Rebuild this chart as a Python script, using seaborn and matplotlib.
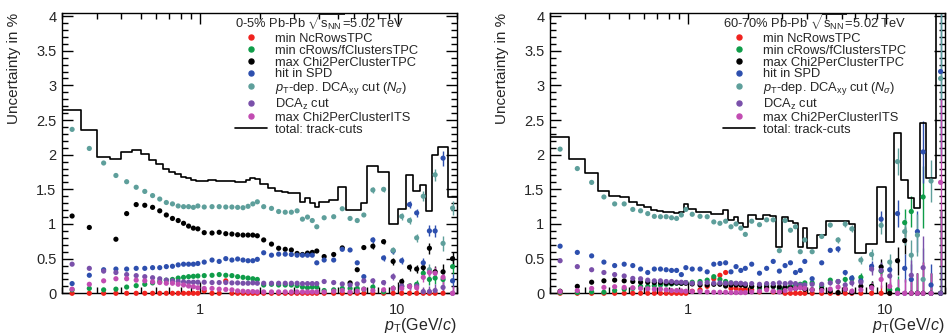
import numpy as np
import pandas as pd
import matplotlib
matplotlib.use("Agg")
import matplotlib.pyplot as plt
from matplotlib.lines import Line2D
from matplotlib.ticker import FixedLocator, FixedFormatter, NullFormatter, LogLocator, MultipleLocator
import seaborn as sns

# ---------------- data ----------------
pt_edges = [0.2, 0.25, 0.3, 0.35, 0.4, 0.45, 0.5, 0.55, 0.6, 0.65, 0.7, 0.75, 0.8, 0.85, 0.9, 0.95,
            1.0, 1.1, 1.2, 1.3, 1.4, 1.5, 1.6, 1.7, 1.8, 1.9,
            2.0, 2.2, 2.4, 2.6, 2.8, 3.0, 3.2, 3.4, 3.6, 3.8,
            4.0, 4.5, 5.0, 5.5, 6.0, 6.5,
            7.0, 8.0, 9.0, 10.0, 11.0, 12.0, 13.0, 14.0, 15.0, 16.0, 18.0, 20.0]

series_names = ["min NcRowsTPC", "min cRows/fClustersTPC", "max Chi2PerClusterTPC", "hit in SPD",
                r"$p_{\rm T}$-dep. DCA$_{\rm xy}$ cut ($N_{\sigma}$)", r"DCA$_{\rm z}$ cut",
                "max Chi2PerClusterITS"]
total_name = "total: track-cuts"
panel_titles = [r"0-5% Pb-Pb $\sqrt{{\rm s}_{\rm NN}}$=5.02 TeV",
                r"60-70% Pb-Pb $\sqrt{{\rm s}_{\rm NN}}$=5.02 TeV"]

nan = float("nan")

# ----- 0-5 % -----
redL = [0, 0, 0, 0, 0, 0, 0, 0, 0, 0, 0, 0, 0, 0, 0, 0,
        0.035, 0, 0, 0.18, 0, 0, 0, 0, 0, 0,
        0, 0, 0, 0, 0, 0, 0, 0, 0, 0,
        0, 0, 0, 0, 0, 0,
        0, 0, 0, 0, 0, 0, 0, 0, 0, 0, nan]
greenL = [0.05, 0.07, 0.05, 0.06, 0.09, 0.11, 0.13, 0.15, 0.17, 0.19, 0.20, 0.22, 0.23, 0.24, 0.245, 0.25,
          0.255, 0.26, 0.27, 0.26, 0.255, 0.24, 0.23, 0.22, 0.21, 0.20,
          0.12, 0.13, 0.12, 0.12, 0.12, 0.11, 0.09, 0.08, 0.09, 0.09,
          0.04, 0.05, 0.07, 0.07, 0.07, 0.06,
          0.09, 0.02, 0.07, 0.10, 0.105, 0.13, 0.29, 0.20, 0.22, 0.20, 0.385]
blackL = [1.115, 0.95, nan, 0.78, 1.15, 1.28, 1.27, 1.24, 1.19, 1.13, 1.08, 1.05, 1.01, 0.97, 0.94, 0.93,
          0.875, 0.87, 0.88, 0.86, 0.855, 0.845, 0.84, 0.84, 0.84, 0.83,
          0.77, 0.71, 0.65, 0.635, 0.625, 0.575, 0.56, 0.58, 0.59, 0.61,
          0.53, 0.56, 0.655, 0.15, 0.34, 0.66,
          0.68, 0.745, 0.46, 0.17, 0.375, 0.35, 0.37, 0.65, 0.31, 0.31, 0.50]
blueL = [0.14, 0.26, 0.34, 0.35, 0.35, 0.36, 0.36, 0.37, 0.37, 0.385, 0.39, 0.41, 0.42, 0.42, 0.42, 0.43,
         0.45, 0.48, 0.46, 0.50, 0.48, 0.495, 0.48, 0.47, 0.47, 0.49,
         0.585, 0.55, 0.565, 0.565, 0.56, 0.55, 0.55, 0.55, 0.55, 0.44,
         0.48, 0.48, 0.635, 0.625, 0.44, 0.24,
         0.77, 0.51, 0.61, 0.47, 1.28, 1.16, 0.44, 0.90, 0.90, 1.95, 0.18]
tealL = [2.365, 2.09, 1.88, 1.70, 1.61, 1.53, 1.47, 1.41, 1.36, 1.31, 1.29, 1.26, 1.25, 1.25, 1.24, 1.26,
         1.245, 1.25, 1.25, 1.245, 1.245, 1.24, 1.235, 1.255, 1.29, 1.32,
         1.25, 1.225, 1.18, 1.17, 1.17, 1.19, 1.07, 1.10, 1.05, 0.96,
         1.09, 1.105, 1.22, 1.08, 1.05, 1.13,
         1.49, 1.50, 0.62, 1.11, 1.05, 0.80, 1.40, 0.34, 1.71, 0.72, 1.23]
purpleL = [0.42, 0.36, 0.32, 0.30, 0.27, 0.255, 0.24, 0.225, 0.21, 0.19, 0.18, 0.17, 0.165, 0.16, 0.16, 0.16,
           0.16, 0.155, 0.155, 0.155, 0.15, 0.15, 0.145, 0.145, 0.15, 0.145,
           0.145, 0.145, 0.145, 0.145, 0.145, 0.145, 0.14, 0.14, 0.14, 0.14,
           0.17, 0.155, 0.135, 0.12, 0.135, 0.18,
           0.18, 0.155, 0.24, 0.105, 0.10, 0.105, 0.025, 0.025, 0.04, 0.085, 0.0]
pinkL = [0.06, 0.13, 0.18, 0.21, 0.21, 0.19, 0.18, 0.165, 0.155, 0.145, 0.145, 0.13, 0.12, 0.105, 0.095, 0.08,
         0.07, 0.07, 0.06, 0.055, 0.05, 0.035, 0.03, 0.025, 0.025, 0.02,
         0.02, 0.02, 0.02, 0.02, 0.02, 0.02, 0.02, 0.02, 0.02, 0.02,
         0.02, 0.03, 0.04, 0.02, 0.03, 0.06,
         0.04, 0.05, 0.07, 0.07, 0.10, 0.08, 0.23, 0.30, 0.29, 0.23, 0.0]
totalL = [2.65, 2.35, 1.96, 1.94, 2.04, 2.07, 2.01, 1.93, 1.86, 1.80, 1.75, 1.72, 1.68, 1.66, 1.63, 1.62,
          1.62, 1.63, 1.62, 1.625, 1.62, 1.61, 1.60, 1.63, 1.66, 1.65,
          1.58, 1.52, 1.48, 1.46, 1.45, 1.44, 1.32, 1.37, 1.31, 1.24,
          1.32, 1.34, 1.53, 1.20, 1.20, 1.30,
          1.83, 1.75, 1.00, 1.22, 1.71, 1.47, 1.56, 1.19, 2.00, 2.11, 1.39]
errL = [0] * 42 + [0.04, 0.04, 0.05, 0.05, 0.05, 0.06, 0.07, 0.08, 0.09, 0.11, 0.10]

# ----- 60-70 % -----
redR = [0, 0, 0, 0, 0, 0, 0, 0, 0, 0, 0, 0, 0, 0, 0, 0,
        0.03, 0.05, 0.10, 0.21, 0.26, 0.30, 0.07, 0.07, 0.05, 0.06,
        0.05, 0.02, 0.07, 0.02, 0.03, 0, 0, 0, 0, 0,
        0, 0, 0, 0, 0, 0,
        0, 0, 0, 0, nan, nan, nan, nan, nan, nan, nan]
greenR = [0.01, 0.01, 0.02, 0.015, 0.04, 0.06, 0.07, 0.10, 0.10, 0.11, 0.12, 0.13, 0.135, 0.145, 0.145, 0.155,
          0.16, 0.17, 0.19, 0.24, 0.20, 0.17, 0.15, 0.14, 0.13, 0.13,
          0.10, 0.07, 0.12, 0.10, 0.06, 0.08, 0.10, 0.12, 0.13, 0.15,
          0.15, 0.10, 0.19, 0.17, 0.20, 0.21,
          0.23, 0.10, 0.32, 0.05, 0.05, 1.02, 1.18, 0.0, 1.39, 0.0, 0.0]
blackR = [0.03, 0.10, 0.16, 0.18, 0.19, 0.18, 0.17, 0.16, 0.16, 0.155, 0.155, 0.145, 0.145, 0.15, 0.145, 0.145,
          0.135, 0.12, 0.12, 0.13, 0.13, 0.105, 0.12, 0.12, 0.12, 0.11,
          0.10, 0.10, 0.09, 0.10, 0.09, 0.09, 0.08, 0.07, 0.10, 0.06,
          0.05, 0.06, 0.03, 0.01, 0.06, 0.01,
          0.10, 0.10, 0.38, 0.0, 0.47, 0.76, 0.0, 0.0, 0.0, 0.0, 0.0]
blueR = [0.68, 0.59, 0.54, 0.45, 0.40, 0.42, 0.40, 0.35, 0.30, 0.35, 0.35, 0.34, 0.33, 0.33, 0.27, 0.37,
         0.35, 0.35, 0.31, 0.42, 0.43, 0.44, 0.31, 0.385, 0.33, 0.36,
         0.42, 0.29, 0.36, 0.46, 0.32, 0.40, 0.44, 0.30, 0.33, 0.46,
         0.21, 0.44, 0.62, 0.64, 0.30, 0.22,
         0.18, 0.39, 1.07, 0.34, 1.15, 0.36, 0.20, 0.89, 2.04, 0.12, 3.20]
tealR = [2.08, 1.80, 1.60, 1.39, 1.29, 1.29, 1.21, 1.19, 1.15, 1.11, 1.105, 1.105, 1.09, 1.08, 1.13, 1.21,
         1.14, 1.11, 1.105, 1.03, 1.01, 1.04, 0.96, 1.0, 0.94, 0.85,
         1.04, 0.99, 1.06, 1.06, 0.615, 1.05, 0.91, 0.96, 0.60, 0.77,
         0.60, 0.82, 0.985, 0.77, 1.0, 0.93,
         0.48, 0.56, 0.98, 0.45, 1.90, 0.89, 0.55, 0.84, 0.20, 1.62, 3.10]
purpleR = [0.47, 0.385, 0.34, 0.30, 0.27, 0.25, 0.215, 0.21, 0.19, 0.18, 0.18, 0.17, 0.17, 0.16, 0.16, 0.155,
           0.145, 0.145, 0.155, 0.145, 0.15, 0.145, 0.15, 0.145, 0.145, 0.135,
           0.14, 0.13, 0.14, 0.14, 0.15, 0.14, 0.15, 0.14, 0.12, 0.12,
           0.13, 0.13, 0.15, 0.17, 0.12, 0.15,
           0.16, 0.35, 0.33, 0.25, 0.0, 0.0, 0.26, 0.0, 0.37, 0.0, 0.0]
pinkR = [0.025, 0.04, 0.07, 0.085, 0.095, 0.085, 0.08, 0.07, 0.065, 0.06, 0.06, 0.05, 0.04, 0.04, 0.035, 0.03,
         0.025, 0.025, 0.02, 0.015, 0.015, 0.015, 0.01, 0.01, 0.01, 0.01,
         0.02, 0.03, 0.05, 0.03, 0.02, 0.04, 0.06, 0.07, 0.08, 0.07,
         0.05, 0.04, 0.06, 0.09, 0.06, 0.03,
         0.05, 0.08, 0.20, 0.10, 0.0, 0.0, 0.0, 0.0, 0.0, 0.0, 1.60]
totalR = [2.25, 1.94, 1.74, 1.48, 1.40, 1.39, 1.32, 1.27, 1.24, 1.20, 1.19, 1.18, 1.17, 1.16, 1.17, 1.29,
          1.22, 1.18, 1.17, 1.15, 1.14, 1.20, 1.06, 1.10, 1.01, 0.96,
          1.13, 1.07, 1.13, 1.12, 0.67, 1.10, 1.05, 1.02, 0.67, 0.94,
          0.65, 0.84, 1.04, 1.05, 1.04, 1.00,
          0.58, 0.71, 1.54, 0.745, 2.32, 1.63, 1.37, 1.23, 2.46, 1.66, 4.80]
errR = [0] * 38 + [0.03, 0.04, 0.04, 0.05,
                   0.06, 0.08, 0.12, 0.12, 0.20, 0.20, 0.22, 0.30, 0.45, 0.30, 1.20]

yticks = [0, 0.5, 1, 1.5, 2, 2.5, 3, 3.5, 4]
ytick_labels = ["0", "0.5", "1", "1.5", "2", "2.5", "3", "3.5", "4"]
xticks = [1, 10]
xtick_labels = ["1", "10"]

colors = ["#f0221e", "#0f9d49", "#000000", "#2d4fae", "#5e9f9b", "#7a50aa", "#c24cb2"]

# ---------------- style ----------------
sns.set_style("ticks")
plt.rcParams["font.family"] = ["Liberation Sans", "DejaVu Sans"]
plt.rcParams["mathtext.fontset"] = "custom"
plt.rcParams["mathtext.rm"] = "Liberation Sans"
plt.rcParams["mathtext.it"] = "Liberation Sans:italic"
plt.rcParams["mathtext.bf"] = "Liberation Sans:bold"
plt.rcParams["mathtext.sf"] = "Liberation Sans"

fig = plt.figure(figsize=(9.47, 3.36), dpi=100)
axL = fig.add_axes([62 / 947, (336 - 293.3) / 336, 395 / 947, 280 / 336])
axR = fig.add_axes([550 / 947, (336 - 293.3) / 336, 395 / 947, 280 / 336])

edges = np.array(pt_edges)
centers = 0.5 * (edges[:-1] + edges[1:])

panels = [
    (axL, [redL, greenL, blackL, blueL, tealL, purpleL, pinkL], totalL, errL, panel_titles[0]),
    (axR, [redR, greenR, blackR, blueR, tealR, purpleR, pinkR], totalR, errR, panel_titles[1]),
]

for ax, series, total, err, title in panels:
    ax.set_xscale("log")
    frames = []
    for name, vals in zip(series_names, series):
        frames.append(pd.DataFrame({"pt": centers, "val": vals, "err": err, "series": name}))
    df = pd.concat(frames, ignore_index=True).dropna(subset=["val"])

    # error bars
    for name, c in zip(series_names, colors):
        d = df[(df["series"] == name) & (df["err"] > 0)]
        if len(d):
            ax.errorbar(d["pt"], d["val"], yerr=d["err"], fmt="none", ecolor=c,
                        elinewidth=1.0, capsize=0, zorder=2)

    # total step histogram
    sns.lineplot(x=pt_edges, y=list(total) + [total[-1]], drawstyle="steps-post",
                 color="black", linewidth=1.2, estimator=None, sort=False, ax=ax, zorder=2.5)

    sns.scatterplot(data=df, x="pt", y="val", hue="series", hue_order=series_names,
                    palette=colors, s=14, linewidth=0, legend=False, ax=ax,
                    clip_on=False, zorder=3)

    ax.set_xlim(0.2, 20)
    ax.set_ylim(0, 4.04)
    ax.xaxis.set_major_locator(FixedLocator(xticks))
    ax.xaxis.set_major_formatter(FixedFormatter(xtick_labels))
    ax.xaxis.set_minor_locator(LogLocator(base=10, subs=[2, 3, 4, 5, 6, 7, 8, 9]))
    ax.xaxis.set_minor_formatter(NullFormatter())
    ax.yaxis.set_major_locator(FixedLocator(yticks))
    ax.yaxis.set_major_formatter(FixedFormatter(ytick_labels))
    ax.yaxis.set_minor_locator(MultipleLocator(0.1))
    ax.tick_params(which="both", direction="in", top=True, right=True, labelsize=10.5,
                   width=1.0, color="black")
    ax.tick_params(which="major", length=8)
    ax.tick_params(which="minor", length=4)
    ax.tick_params(axis="x", which="major", pad=7)
    ax.tick_params(axis="y", which="major", pad=4)
    for sp in ax.spines.values():
        sp.set_linewidth(1.0)
        sp.set_color("black")

    ax.set_xlabel(r"$p_{\rm T}$(GeV/$c$)", loc="right", fontsize=11.5, labelpad=-1)
    ax.set_ylabel("Uncertainty in %", loc="top", fontsize=11, labelpad=11)

    handles = [Line2D([], [], ls="", marker="o", color=c, markersize=3.6) for c in colors]
    handles.append(Line2D([], [], color="black", lw=1.2))
    ax.legend(handles, series_names + [total_name], title=title, loc="upper left",
              bbox_to_anchor=(0.435, 1.005), frameon=False, fontsize=9.3, title_fontsize=9.3,
              borderpad=0.1, borderaxespad=0, handlelength=2.5, handletextpad=0.55,
              labelspacing=-0.02, alignment="left")

fig.savefig("out.png", dpi=100)
